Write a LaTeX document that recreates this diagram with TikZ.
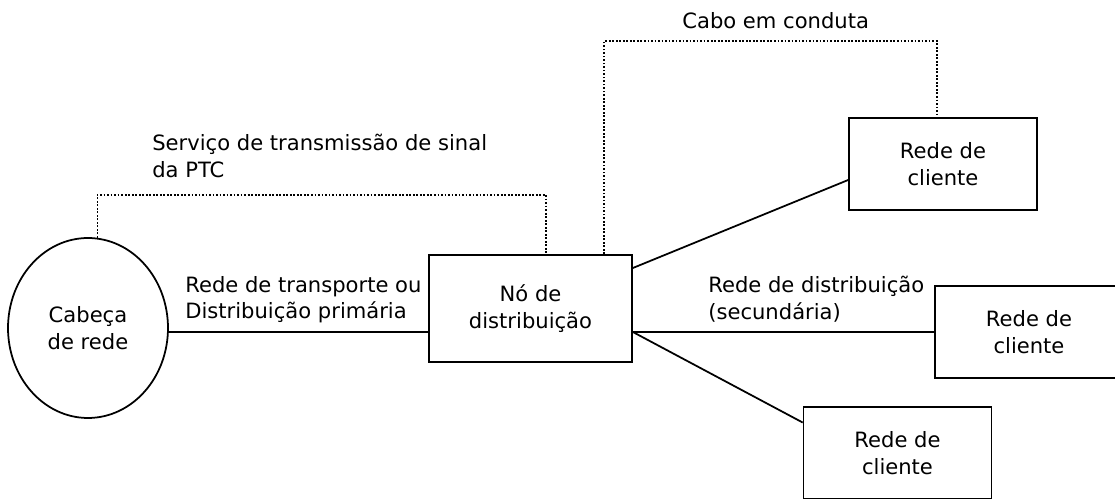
\documentclass[tikz,border=0pt]{standalone}
\usepackage{fontspec}
\setmainfont{DejaVu Sans}
\usetikzlibrary{shapes.geometric}

\begin{document}
\begin{tikzpicture}[x=0.02cm,y=-0.02cm,font=\fontsize{12}{15}\selectfont]
\tikzset{NodeBox/.style = {draw, line width=1pt, align=center, minimum width=3.76cm, minimum height=1.84cm},
  Label/.style = {align=left, anchor=north west, inner sep=0pt},
  Link/.style = {line width=1pt},
  Duct/.style = {densely dotted, line width=1pt}}
\useasboundingbox (0,0) rectangle (1115,499);
\node[draw, ellipse, line width=1pt, minimum width=3.2cm, minimum height=3.6cm, align=center] (head) at (88,328) {Cabeça\\de rede};
\node[NodeBox, minimum width=4.06cm, minimum height=2.14cm] (dist) at (530.5,308.5) {Nó de\\distribuição};
\node[NodeBox] (c1) at (943,164) {Rede de\\cliente};
\node[NodeBox] (c2) at (1029,332) {Rede de\\cliente};
\node[NodeBox] (c3) at (897.5,453) {Rede de\\cliente};
\node[Label] (ptc) at (152,134) {Serviço de transmissão de sinal\\da PTC};
\node[Label] (duct) at (682,12) {Cabo em conduta};
\node[Label] (prim) at (185,276) {Rede de transporte ou\\Distribuição primária};
\node[Label] (sec) at (708,276) {Rede de distribuição\\(secundária)};
\draw[Link] (head.east |- c2.west) -- (dist.west |- c2.west);
\draw[Link] ([yshift=0.81cm]dist.east) -- ([yshift=-0.32cm]c1.west);
\draw[Link] (dist.east |- c2.west) -- (c2.west);
\draw[Link] (dist.east |- c2.west) -- ([yshift=0.61cm]c3.west);
\draw[Duct] (head.84) -- ++(0,-43) -| ([xshift=0.31cm]dist.north);
\draw[Duct] ([xshift=1.47cm]dist.north) -- ++(0,-213) -| ([xshift=-0.12cm]c1.north);
\end{tikzpicture}
\end{document}
